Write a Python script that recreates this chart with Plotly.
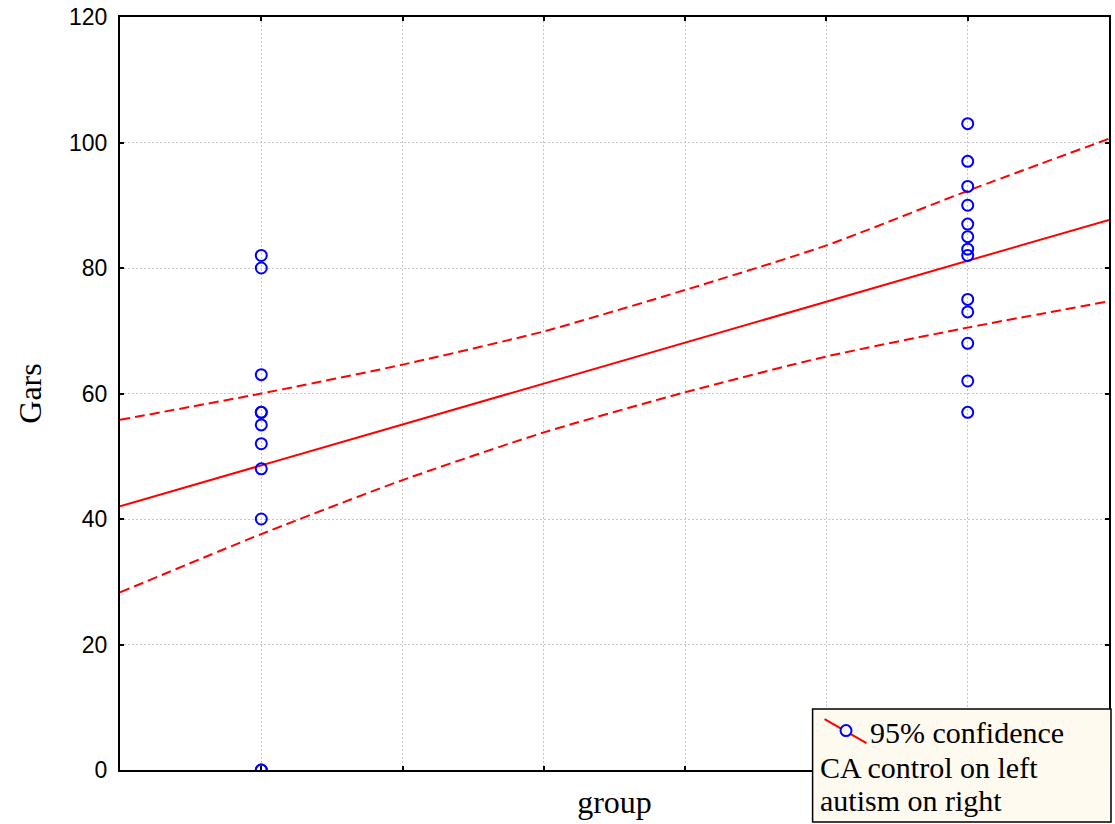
import numpy as np
import plotly.graph_objects as go

# ---- data ----
control_group = 1.0
autism_group = 2.0
control_gars = [82, 80, 63, 57, 57, 55, 52, 48, 40, 0, 0]
autism_gars = [103, 97, 93, 90, 87, 85, 83, 82, 75, 73, 68, 62, 57]

ci_x = [0.8, 1.0, 1.2, 1.4, 1.6, 1.8, 2.0, 2.2]
ci_upper = [55.8, 60.0, 64.6, 69.9, 76.5, 83.6, 92.3, 100.6]
ci_lower = [28.3, 37.6, 46.2, 53.8, 60.2, 65.9, 70.5, 74.7]

x_range = [0.8, 2.2]
x_gridvals = [1.0, 1.2, 1.4, 1.6, 1.8, 2.0]
y_tickvals = [0, 20, 40, 60, 80, 100, 120]

legend_lines = ["95% confidence", "CA control on left", "autism on right"]

# ---- derived ----
xs = np.array([control_group] * len(control_gars) + [autism_group] * len(autism_gars))
ys = np.array(control_gars + autism_gars, dtype=float)
slope, intercept = np.polyfit(xs, ys, 1)
fit_x = np.array(x_range)
fit_y = intercept + slope * fit_x

W, H = 1115, 824
L, R, T, B = 120, 4, 16, 54
PW, PH = W - L - R, H - T - B


def px(x):
    return (x - L) / PW


def py(y):
    return (H - B - y) / PH


RED = "#ff0000"
BLUE = "#0000ff"
SERIF = "Liberation Serif, Times New Roman, serif"
SANS = "Liberation Sans, Arial, sans-serif"

fig = go.Figure()

fig.add_trace(go.Scatter(x=ci_x, y=ci_upper, mode="lines",
                         line=dict(color=RED, width=2, dash="10px,5px", shape="spline", smoothing=0.6),
                         showlegend=False, hoverinfo="skip"))
fig.add_trace(go.Scatter(x=ci_x, y=ci_lower, mode="lines",
                         line=dict(color=RED, width=2, dash="10px,5px", shape="spline", smoothing=0.6),
                         showlegend=False, hoverinfo="skip"))
fig.add_trace(go.Scatter(x=fit_x, y=fit_y, mode="lines",
                         line=dict(color=RED, width=2), showlegend=False))
fig.add_trace(go.Scatter(x=xs, y=ys, mode="markers",
                         marker=dict(symbol="circle-open", size=11, color=BLUE, line=dict(width=2, color=BLUE)),
                         showlegend=False))

axis_common = dict(
    showline=True, linecolor="black", linewidth=2, mirror="ticks",
    ticks="inside", ticklen=4, tickwidth=1.5, tickcolor="black",
    showgrid=True, gridcolor="#c8c8c8", gridwidth=1, griddash="2px,2px",
    zeroline=False,
)

fig.update_xaxes(range=x_range, tickvals=x_gridvals, showticklabels=False,
                 title=dict(text="group", font=dict(family=SERIF, size=32, color="black"), standoff=20),
                 **axis_common)
fig.update_yaxes(range=[0, 120], tickvals=y_tickvals,
                 tickfont=dict(family=SANS, size=23, color="black"),
                 ticklabelstandoff=6,
                 title=dict(text="Gars", font=dict(family=SERIF, size=32, color="black"), standoff=18),
                 **axis_common)

# legend box (manual)
BG = "#fffaf0"
shapes = [
    dict(type="rect", xref="paper", yref="paper", layer="above",
         x0=px(814), x1=px(1113), y0=py(822), y1=py(709),
         fillcolor=BG, line=dict(color="black", width=1.5)),
    dict(type="line", xref="paper", yref="paper", layer="above",
         x0=px(826), y0=py(719), x1=px(868), y1=py(743),
         line=dict(color=RED, width=2)),
    dict(type="circle", xref="paper", yref="paper", layer="above",
         x0=px(842), x1=px(853), y0=py(736), y1=py(725),
         fillcolor=BG, line=dict(color=BLUE, width=2)),
]
annotations = [
    dict(xref="paper", yref="paper", x=px(870), y=py(732), text=legend_lines[0],
         xanchor="left", yanchor="middle", showarrow=False,
         font=dict(family=SERIF, size=30, color="black")),
    dict(xref="paper", yref="paper", x=px(819), y=py(767), text=legend_lines[1],
         xanchor="left", yanchor="middle", showarrow=False,
         font=dict(family=SERIF, size=30, color="black")),
    dict(xref="paper", yref="paper", x=px(819), y=py(801), text=legend_lines[2],
         xanchor="left", yanchor="middle", showarrow=False,
         font=dict(family=SERIF, size=30, color="black")),
]

fig.update_layout(
    width=W, height=H,
    margin=dict(l=L, r=R, t=T, b=B, pad=0),
    paper_bgcolor="white", plot_bgcolor="white",
    showlegend=False,
    shapes=shapes, annotations=annotations,
)

fig.write_html("out.html")
